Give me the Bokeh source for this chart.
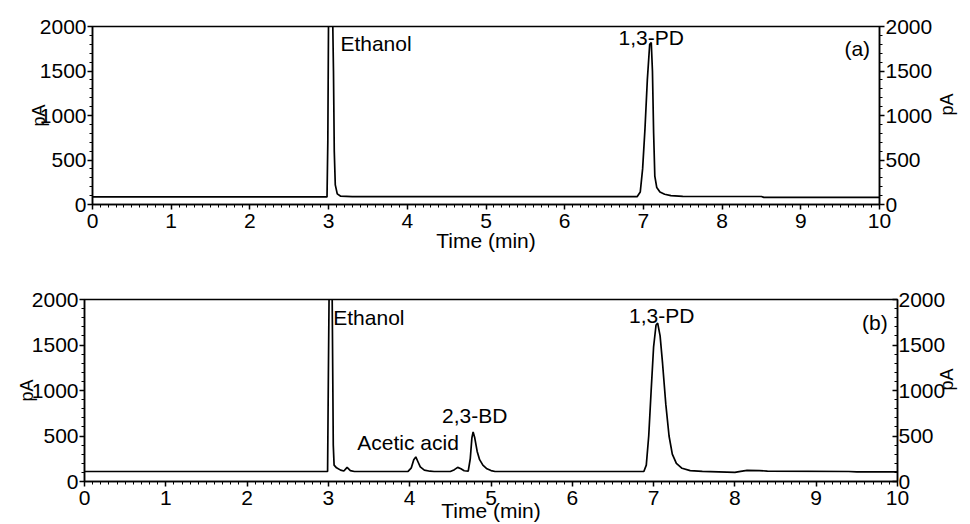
import math
from bokeh.plotting import figure
from bokeh.models import LinearAxis, Range1d, Label, SingleIntervalTicker
from bokeh.embed import file_html
from bokeh.resources import INLINE

# ---- data ----
time_a = [0, 2.98, 2.99, 3.00, 3.05, 3.062, 3.072, 3.085, 3.11, 3.15, 3.3,
          6.92, 6.96, 6.99, 7.02, 7.05, 7.08, 7.10, 7.115, 7.13, 7.145, 7.17,
          7.21, 7.27, 7.35, 7.5, 8.5, 8.53, 10]
signal_a = [85, 85, 700, 2200, 2200, 1500, 600, 220, 120, 95, 88,
            88, 140, 400, 850, 1400, 1800, 1820, 1500, 800, 320, 190,
            140, 115, 100, 92, 90, 80, 80]

time_b = [0, 2.99, 3.0, 3.01, 3.045, 3.06, 3.07, 3.1, 3.15, 3.19, 3.23, 3.27, 3.32,
          3.98, 4.02, 4.05, 4.075, 4.1, 4.13, 4.18, 4.25, 4.3,
          4.5, 4.55, 4.59, 4.63, 4.67, 4.72, 4.745, 4.765, 4.78, 4.8, 4.83, 4.86,
          4.9, 4.95, 5.0, 5.05,
          6.88, 6.91, 6.94, 6.97, 7.0, 7.03, 7.05, 7.08, 7.11, 7.15, 7.19, 7.23,
          7.28, 7.35, 7.45, 7.6, 7.9, 8.0, 8.07, 8.15, 8.3, 8.4, 9.4, 9.5, 10]
signal_b = [110, 110, 1200, 2200, 2200, 400, 180, 150, 125, 115, 155, 120, 110,
            112, 150, 240, 270, 220, 160, 125, 113, 110,
            110, 130, 155, 140, 118, 115, 250, 480, 545, 480, 330, 240,
            180, 140, 120, 110,
            110, 180, 500, 1000, 1480, 1720, 1740, 1600, 1300, 850, 500, 300,
            200, 145, 120, 112, 103, 100, 112, 122, 120, 115, 110, 105, 105]

x_start, x_end = 0, 10
y_start, y_end = 0, 2000
x_tick_interval = 1
y_tick_interval = 500

FONT = "Liberation Sans"


def style_axis(ax, label, label_standoff, tick_standoff, label_size="21px",
               tick_out=5, tick_in=0):
    ax.axis_label = label
    ax.axis_label_text_font = FONT
    ax.axis_label_text_font_size = label_size
    ax.axis_label_text_font_style = "normal"
    ax.axis_label_text_color = "black"
    ax.axis_label_standoff = label_standoff
    ax.major_label_text_font = FONT
    ax.major_label_text_font_size = "21px"
    ax.major_label_text_color = "black"
    ax.major_label_standoff = tick_standoff
    ax.axis_line_color = "black"
    ax.axis_line_width = 1.5
    ax.major_tick_line_color = "black"
    ax.major_tick_line_width = 1.5
    ax.minor_tick_line_color = "black"
    ax.minor_tick_line_width = 1
    ax.major_tick_in = tick_in
    ax.major_tick_out = tick_out
    ax.minor_tick_in = min(tick_in, 3)
    ax.minor_tick_out = min(tick_out, 3)


def make_panel(t, s, width, height, bl, br, bt, bb, xs, ls, rs, r_out, r_in, labels):
    p = figure(width=width, height=height,
               x_range=Range1d(x_start, x_end), y_range=Range1d(y_start, y_end),
               output_backend="svg", toolbar_location=None,
               min_border_left=bl, min_border_right=br,
               min_border_top=bt, min_border_bottom=bb)
    p.xgrid.visible = False
    p.ygrid.visible = False
    p.outline_line_color = "black"
    p.outline_line_width = 1.5
    p.background_fill_color = "white"
    p.border_fill_color = "white"

    p.xaxis[0].ticker = SingleIntervalTicker(interval=x_tick_interval, num_minor_ticks=10)
    p.yaxis[0].ticker = SingleIntervalTicker(interval=y_tick_interval, num_minor_ticks=5)
    style_axis(p.xaxis[0], "Time (min)", xs, 4)
    style_axis(p.yaxis[0], "pA", ls, 1, label_size="18px")

    ry = LinearAxis(ticker=SingleIntervalTicker(interval=y_tick_interval, num_minor_ticks=5))
    style_axis(ry, "pA", rs, 1, label_size="18px", tick_out=r_out, tick_in=r_in)
    try:
        ry.axis_label_orientation = math.pi / 2
    except Exception:
        pass
    p.add_layout(ry, "right")

    p.line(t, s, line_color="black", line_width=1.7)

    for (txt, x, y, align) in labels:
        p.add_layout(Label(x=x, y=y, text=txt, text_font=FONT, text_font_size="21px",
                           text_color="black", text_align=align, text_baseline="middle"))
    return p


labels_a = [("Ethanol", 3.15, 1810, "left"),
            ("1,3-PD", 7.1, 1880, "center"),
            ("(a)", 9.88, 1750, "right")]
labels_b = [("Ethanol", 3.06, 1806, "left"),
            ("Acetic acid", 3.98, 432, "center"),
            ("2,3-BD", 4.8, 725, "center"),
            ("1,3-PD", 7.1, 1824, "center"),
            ("(b)", 9.88, 1747, "right")]

pa = make_panel(time_a, signal_a, 970, 275, 92, 90, 26, 71, -2, -12, 12, 5, 0, labels_a)
pb = make_panel(time_b, signal_b, 970, 249, 84, 73, 24, 43, -9, -8, -1, 0, 5, labels_b)

open("out.html", "w").write(file_html([pa, pb], INLINE))
